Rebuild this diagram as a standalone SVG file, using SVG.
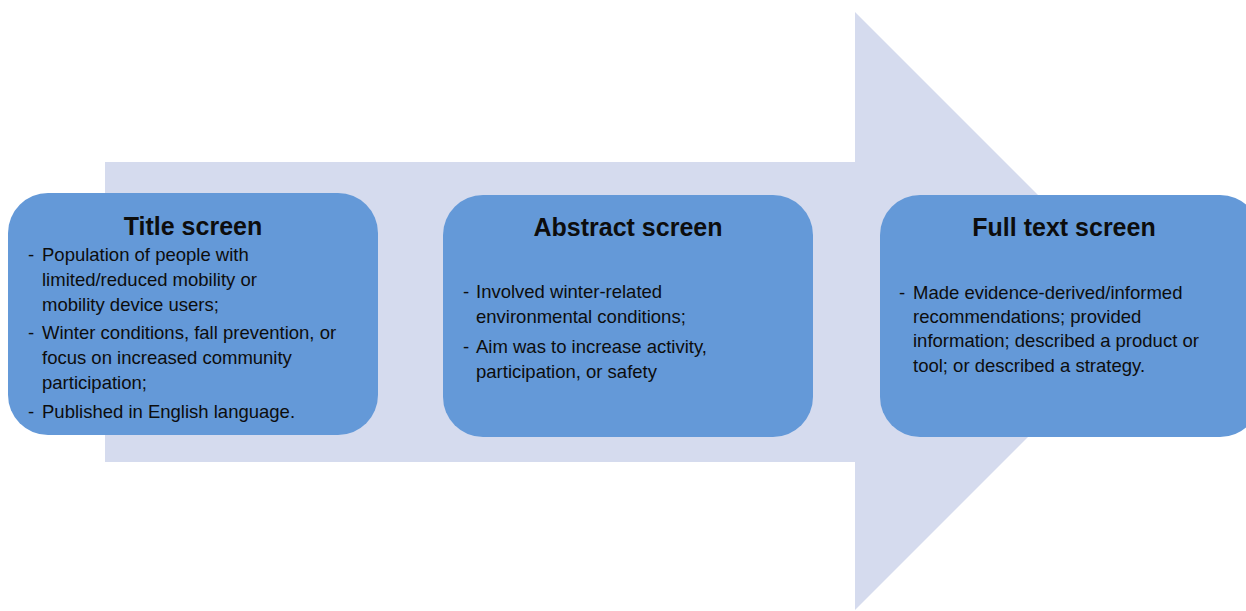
<svg xmlns="http://www.w3.org/2000/svg" width="1246" height="611" viewBox="0 0 1246 611">
<style>
.box{fill:#6499d8;}
.title{font-family:"Liberation Sans",Arial,sans-serif;font-weight:bold;font-size:25px;fill:#0d0d0d;text-anchor:middle;}
.body{font-family:"Liberation Sans",Arial,sans-serif;font-size:18.5px;fill:#0d0d0d;}
</style>
<rect width="1246" height="611" fill="#ffffff"/>
<g id="connectors">
<polygon points="105,162 855,162 855,12 1154,311 855,610 855,462 105,462" fill="#d5dbee"/>
</g>
<g id="title-screen">
<rect class="box" x="8" y="193" width="370" height="242" rx="40"/>
<text class="title" x="193" y="235">Title screen</text>
<text class="body" x="28" y="261">-</text>
<text class="body" x="42" y="261">Population of people with</text>
<text class="body" x="42" y="286">limited/reduced mobility or</text>
<text class="body" x="42" y="311">mobility device users;</text>
<text class="body" x="28" y="339">-</text>
<text class="body" x="42" y="339">Winter conditions, fall prevention, or</text>
<text class="body" x="42" y="364">focus on increased community</text>
<text class="body" x="42" y="389">participation;</text>
<text class="body" x="28" y="418">-</text>
<text class="body" x="42" y="418">Published in English language.</text>
</g>
<g id="abstract-screen">
<rect class="box" x="443" y="195" width="370" height="242" rx="40"/>
<text class="title" x="628" y="236">Abstract screen</text>
<text class="body" x="463" y="298">-</text>
<text class="body" x="476" y="298">Involved winter-related</text>
<text class="body" x="476" y="323">environmental conditions;</text>
<text class="body" x="463" y="353">-</text>
<text class="body" x="476" y="353">Aim was to increase activity,</text>
<text class="body" x="476" y="378">participation, or safety</text>
</g>
<g id="full-text-screen">
<rect class="box" x="880" y="195" width="380" height="242" rx="40"/>
<text class="title" x="1064" y="236">Full text screen</text>
<text class="body" x="899" y="299">-</text>
<text class="body" x="913" y="299">Made evidence-derived/informed</text>
<text class="body" x="913" y="323">recommendations; provided</text>
<text class="body" x="913" y="347">information; described a product or</text>
<text class="body" x="913" y="372">tool; or described a strategy.</text>
</g>
</svg>
